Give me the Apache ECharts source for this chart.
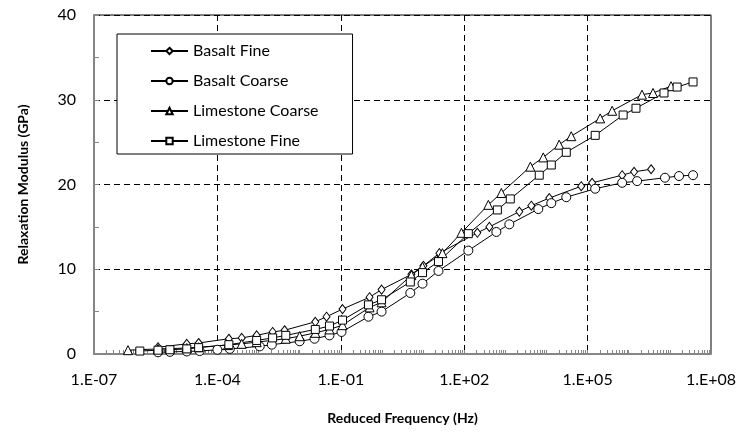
<!DOCTYPE html>
<html>
<head>
<meta charset="utf-8">
<script src="https://cdn.jsdelivr.net/npm/echarts@6/dist/echarts.min.js"></script>
<style>
  html, body { margin: 0; padding: 0; background: #fff; }
  #chart { width: 744px; height: 441px; }
</style>
</head>
<body>
<div id="chart"></div>
<script>
// reduced frequency (Hz) and relaxation modulus (GPa)
const basaltFineFreq = [3.6e-6, 1.8e-5, 3.5e-5, 1.9e-4, 3.9e-4, 9.0e-4, 2.2e-3, 4.3e-3, 0.024, 0.045, 0.11, 0.5, 0.98, 5.2, 10.2, 25, 209, 409, 2190, 4280, 11700, 70000, 129000, 692000, 1.35e6, 3.5e6]
const basaltFineMod = [0.8, 1.2, 1.3, 1.8, 1.9, 2.2, 2.6, 2.8, 3.8, 4.4, 5.3, 6.7, 7.6, 9.4, 10.4, 11.9, 14.3, 15.0, 16.8, 17.5, 18.4, 19.8, 20.2, 21.1, 21.5, 21.8]

const basaltCoarseFreq = [3.6e-6, 7.0e-6, 1.8e-5, 3.7e-5, 1.0e-4, 2.0e-4, 1.07e-3, 2.1e-3, 0.01, 0.023, 0.053, 0.104, 0.47, 0.98, 4.9, 9.7, 23.7, 126, 605, 1250, 6330, 13100, 30300, 153000, 692000, 1.6e6, 7.6e6, 1.67e7, 3.66e7]
const basaltCoarseMod = [0.2, 0.25, 0.3, 0.35, 0.5, 0.6, 0.9, 1.1, 1.5, 1.8, 2.2, 2.6, 4.4, 5.0, 7.2, 8.3, 9.8, 12.2, 14.4, 15.3, 17.1, 17.8, 18.5, 19.5, 20.2, 20.4, 20.8, 21.0, 21.1]

const limeCoarseFreq = [6.7e-7, 3.6e-6, 1.8e-5, 3.5e-5, 1.8e-4, 3.9e-4, 9.0e-4, 4.6e-3, 0.01, 0.024, 0.053, 0.11, 0.5, 0.98, 5.2, 9.7, 29.6, 85.5, 386, 800, 4050, 8360, 20400, 40000, 202000, 396000, 2.1e6, 3.9e6, 1.07e7]
const limeCoarseMod = [0.45, 0.6, 0.7, 0.8, 1.05, 1.2, 1.4, 1.8, 2.1, 2.5, 2.9, 3.4, 5.5, 6.1, 9.3, 10.3, 11.9, 14.3, 17.6, 19.0, 22.1, 23.2, 24.7, 25.7, 27.8, 28.7, 30.6, 30.8, 31.6]

const limeFineFreq = [1.3e-6, 3.6e-6, 7.0e-6, 1.8e-5, 3.5e-5, 1.9e-4, 9.0e-4, 2.2e-3, 4.6e-3, 0.024, 0.053, 0.11, 0.47, 0.98, 4.9, 9.7, 23.7, 126, 640, 1320, 6680, 13100, 30300, 153000, 731000, 1.5e6, 7.2e6, 1.5e7, 3.66e7]
const limeFineMod = [0.35, 0.45, 0.5, 0.6, 0.75, 1.1, 1.6, 1.9, 2.2, 2.9, 3.3, 4.0, 5.8, 6.4, 8.5, 9.6, 10.9, 14.2, 17.0, 18.3, 21.1, 22.3, 23.8, 25.8, 28.2, 29.0, 30.8, 31.5, 32.1]

const xTickLabels = [1e-7, 1e-4, 1e-1, 1e2, 1e5, 1e8]
const xGridValues = [1e-4, 1e-1, 1e2, 1e5]
const yTicks = [0, 10, 20, 30, 40]

// small log ticks 2..9 in every decade
let xMinorTicks = []
for (let e = -7; e < 8; e++) {
  for (let k = 1; k < 10; k++) xMinorTicks.push(k * Math.pow(10, e))
}
xMinorTicks.push(1e8)

const font = 'Lato, "Open Sans", sans-serif'

function pairs(xs, ys) {
  return xs.map((x, i) => [x, ys[i]])
}
function expLabel(v) {
  let e = Math.round(Math.log10(v))
  let s = String(Math.abs(e)).padStart(2, '0')
  return '1.E' + (e < 0 ? '-' : '+') + s
}

const chart = echarts.init(document.getElementById('chart'))

const lineSeries = (name, symbol, size, data) => ({
  name: name,
  type: 'line',
  data: data,
  symbol: symbol,
  symbolSize: size,
  showAllSymbol: true,
  lineStyle: { color: '#000', width: 1 },
  itemStyle: { color: '#fff', borderColor: '#000', borderWidth: 1 },
  emphasis: { disabled: true },
  animation: false,
})

chart.setOption({
  animation: false,
  textStyle: { fontFamily: font },
  grid: {
    left: 94,
    right: 33,
    top: 15,
    bottom: 87,
    show: true,
    borderColor: '#000',
    borderWidth: 1,
  },
  legend: {
    left: 117,
    top: 34,
    orient: 'vertical',
    itemWidth: 37,
    itemHeight: 8,
    itemGap: 14,
    padding: [9, 34, 5, 33],
    borderColor: '#000',
    borderWidth: 1,
    backgroundColor: '#fff',
    textStyle: { fontFamily: font, fontSize: 16, lineHeight: 16, color: '#000' },
    data: ['Basalt Fine', 'Basalt Coarse', 'Limestone Coarse', 'Limestone Fine'],
  },
  xAxis: [
    {
      type: 'log',
      logBase: 10,
      min: 1e-7,
      max: 1e8,
      name: 'Reduced Frequency (Hz)',
      nameLocation: 'middle',
      nameGap: 57,
      nameTextStyle: { fontFamily: font, fontSize: 14, fontWeight: 'bold', color: '#000' },
      axisLine: { lineStyle: { color: '#868686', width: 2 } },
      axisTick: { inside: true, length: 4, lineStyle: { color: '#868686' }, customValues: xMinorTicks },
      axisLabel: {
        margin: 18,
        fontSize: 16,
        color: '#000',
        customValues: xTickLabels,
        formatter: expLabel,
      },
      splitLine: { show: false },
    },
    {
      type: 'log',
      logBase: 10,
      min: 1e-7,
      max: 1e8,
      position: 'bottom',
      axisLine: { show: false },
      axisTick: { show: false, customValues: xGridValues },
      axisLabel: { show: false, customValues: xGridValues },
      splitLine: { show: true, lineStyle: { color: '#000', type: [6, 4], width: 1 } },
    },
  ],
  yAxis: {
    type: 'value',
    min: 0,
    max: 40,
    interval: 10,
    name: 'Relaxation Modulus (GPa)',
    nameLocation: 'middle',
    nameGap: 64,
    nameTextStyle: { fontFamily: font, fontSize: 14, fontWeight: 'bold', color: '#000' },
    axisLine: { show: true, lineStyle: { color: '#868686', width: 2 } },
    axisTick: { show: true, inside: true, length: 5, lineStyle: { color: '#868686' } },
    minorTick: { show: true, splitNumber: 2, length: 5, lineStyle: { color: '#868686' } },
    axisLabel: {
      margin: 18,
      fontSize: 16,
      color: '#000',
      customValues: yTicks,
    },
    splitLine: { show: true, lineStyle: { color: '#000', type: [6, 4], width: 1 } },
  },
  series: [
    lineSeries('Basalt Fine', 'diamond', [7, 9], pairs(basaltFineFreq, basaltFineMod)),
    lineSeries('Basalt Coarse', 'circle', 9, pairs(basaltCoarseFreq, basaltCoarseMod)),
    lineSeries('Limestone Coarse', 'triangle', 9, pairs(limeCoarseFreq, limeCoarseMod)),
    lineSeries('Limestone Fine', 'rect', 8, pairs(limeFineFreq, limeFineMod)),
  ],
})
</script>
</body>
</html>
